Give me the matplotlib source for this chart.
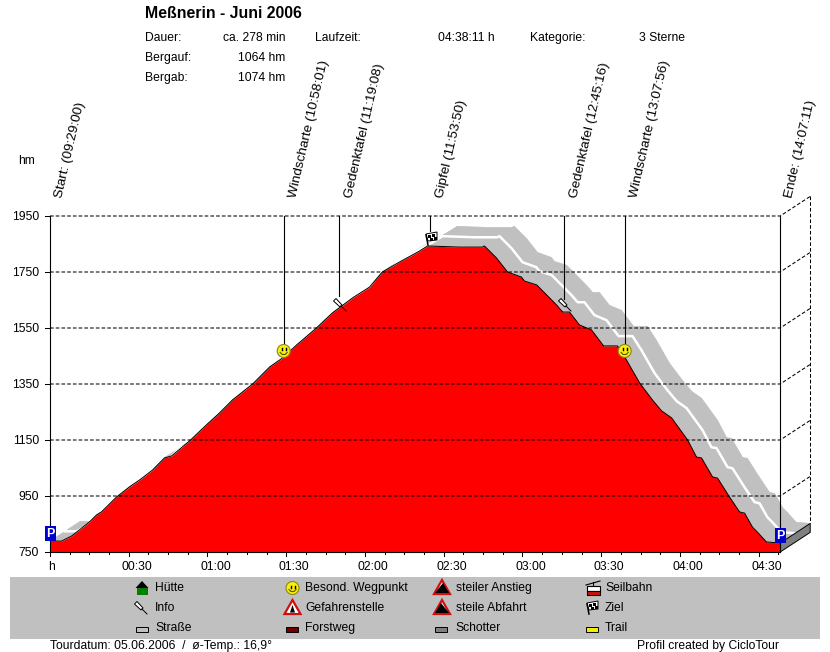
# elevation profile of a hiking tour, CicloTour style
import matplotlib
matplotlib.use("Agg")
import matplotlib.pyplot as plt
from matplotlib.patches import Circle, Polygon, Rectangle

plt.rcParams['font.family'] = ['Liberation Sans', 'DejaVu Sans']

# profile, minutes since start / altitude in hm
time_min = [0, 4.4, 8.2, 10.1, 15.0, 17.7, 19.6, 25.3, 30.2, 34.1, 39.1, 43.6, 46.3, 53.1,
            59.6, 64.5, 69.5, 77.2, 83.7, 88.6, 93.9, 101.5, 107.6, 115.2, 121.7, 126.6,
            133.2, 140.8, 143.8, 156.0, 164.7, 165.5, 170.1, 174.3, 179.6, 180.7, 185.4,
            193.0, 195.3, 197.9, 201.7, 206.3, 210.9, 216.2, 219.6, 224.6, 229.5, 233.0,
            236.8, 242.9, 246.3, 248.2, 252.4, 254.3, 258.9, 262.7, 264.6, 267.6, 269.5,
            272.9, 278.18]
altitude = [789, 789, 807, 821, 857, 882, 893, 946, 982, 1007, 1043, 1086, 1093, 1146,
            1204, 1246, 1293, 1350, 1411, 1443, 1489, 1550, 1604, 1657, 1696, 1750,
            1786, 1825, 1843, 1839, 1839, 1843, 1800, 1750, 1732, 1718, 1704,
            1632, 1607, 1607, 1561, 1543, 1486, 1486, 1436, 1354, 1293, 1254,
            1229, 1150, 1089, 1086, 1018, 1014, 946, 893, 889, 839, 821,
            786, 782]

y_ticks = [750, 950, 1150, 1350, 1550, 1750, 1950]
x_major = [30, 60, 90, 120, 150, 180, 210, 240, 270]
x_labels = ['00:30', '01:00', '01:30', '02:00', '02:30', '03:00', '03:30', '04:00', '04:30']
x_minor = [7.5, 15, 22.5, 37.5, 45, 52.5, 67.5, 75, 82.5, 97.5, 105, 112.5, 127.5, 135, 142.5,
           157.5, 165, 172.5, 187.5, 195, 202.5, 217.5, 225, 232.5, 247.5, 255, 262.5, 277.5]

event_names = ['Start: (09:29:00)', 'Windscharte (10:58:01)', 'Gedenktafel (11:19:08)',
               'Gipfel (11:53:50)', 'Gedenktafel (12:45:16)', 'Windscharte (13:07:56)',
               'Ende: (14:07:11)']
event_min = [0, 89.02, 110.13, 144.83, 196.0, 218.93, 278.18]
leader_end = [750, 1490, 1665, 1895, 1655, 1490, 750]

legend_names = [['Hütte', 'Info', 'Straße'],
                ['Besond. Wegpunkt', 'Gefahrenstelle', 'Forstweg'],
                ['steiler Anstieg', 'steile Abfahrt', 'Schotter'],
                ['Seilbahn', 'Ziel', 'Trail']]

W, H = 830, 652
T_END = 278.18
DEPTH_T = 11.43
DEPTH_H = 70

fig = plt.figure(figsize=(W / 100, H / 100), dpi=100, facecolor='white')
ax = fig.add_axes([50 / W, 1 - 552 / H, 730.2 / W, 336 / H])
ax.set_xlim(0, T_END)
ax.set_ylim(750, 1950)
ax.axis('off')

# overlay in pixels for texts and icons
px = fig.add_axes([0, 0, 1, 1], zorder=5)
px.set_xlim(0, W)
px.set_ylim(H, 0)
px.axis('off')
px.patch.set_alpha(0)

# the road band lies behind the profile
for i in range(len(time_min) - 1):
    t0, t1 = time_min[i], time_min[i + 1]
    a0, a1 = altitude[i], altitude[i + 1]
    ax.fill([t0, t1, t1 + DEPTH_T, t0 + DEPTH_T], [a0, a1, a1 + DEPTH_H, a0 + DEPTH_H],
            color='#c0c0c0', lw=0.5, clip_on=False, zorder=1)
ax.plot([t + DEPTH_T / 2 for t in time_min], [a + DEPTH_H / 2 for a in altitude],
        color='white', lw=1.8, clip_on=False, zorder=2)

# end face
ax.fill([T_END, T_END + DEPTH_T, T_END + DEPTH_T, T_END],
        [750, 750 + DEPTH_H, altitude[-1] + DEPTH_H, altitude[-1]],
        facecolor='#808080', edgecolor='black', lw=0.7, clip_on=False, zorder=2)

ax.fill_between(time_min, 750, altitude, color='#ff0000', lw=0, zorder=3)
ax.plot(time_min, altitude, color='black', lw=0.7, zorder=4)

# grid with side wall
dash = (0, (3.5, 2))
for y in y_ticks[1:]:
    ax.plot([0, T_END, T_END + DEPTH_T], [y, y, y + DEPTH_H], color='black', lw=0.75,
            ls=dash, clip_on=False, zorder=4)
    ax.plot([-5.5 / 2.625, 0], [y, y], color='black', lw=0.75, clip_on=False, zorder=4)
ax.plot([-5.5 / 2.625, 0], [750, 750], color='black', lw=0.75, clip_on=False, zorder=4)
ax.plot([T_END + DEPTH_T] * 2, [1950 + DEPTH_H, altitude[-1] + DEPTH_H], color='black', lw=0.75,
        ls=dash, clip_on=False, zorder=4)

ax.plot([0, T_END], [750, 750], color='black', lw=0.8, clip_on=False, zorder=4)
for t, end in zip(event_min, leader_end):
    ax.plot([t, t], [end, 1950], color='black', lw=0.8, clip_on=False, zorder=4)

for t in [0] + x_major:
    ax.plot([t, t], [750, 750 - 16], color='black', lw=0.75, clip_on=False, zorder=4)
for t in x_minor:
    ax.plot([t, t], [750, 750 - 8], color='black', lw=0.75, clip_on=False, zorder=4)


def txt(x, y, s, size=8.75, **kw):
    px.text(x, y + 0.8, s, fontsize=size, color='black', va='center', **kw)


def to_px(t, a):
    return 50 + t * 2.625, 552 - (a - 750) * 0.28


for t, name in zip(x_major, x_labels):
    txt(to_px(t, 750)[0] + 8, 566, name, ha='center')
txt(51, 566, 'h', ha='center')
for y in y_ticks:
    txt(39, to_px(0, y)[1], str(y), ha='right')
txt(18, 160, 'hm')

anchor_x = [62, 296, 352, 443, 577, 637, 792]
for x, name in zip(anchor_x, event_names):
    px.text(x, 198, name, fontsize=9.7, rotation=77, rotation_mode='anchor',
            ha='left', va='baseline')

# header
txt(145, 12.5, 'Meßnerin - Juni 2006', size=11.4, fontweight='bold')
txt(145, 37.5, 'Dauer:')
txt(285, 37.5, 'ca. 278 min', ha='right')
txt(315, 37.5, 'Laufzeit:')
txt(495, 37.5, '04:38:11 h', ha='right')
txt(530, 37.5, 'Kategorie:')
txt(639, 37.5, '3 Sterne')
txt(145, 57.5, 'Bergauf:')
txt(285, 57.5, '1064 hm', ha='right')
txt(145, 77.5, 'Bergab:')
txt(285, 77.5, '1074 hm', ha='right')


# icons
def smiley(x, y, r=6.5):
    px.add_patch(Circle((x, y), r, fc='#f8ec10', ec='#8a8a10', lw=0.8))
    px.plot([x - 2, x - 2], [y - 2.5, y - 0.5], color='black', lw=1)
    px.plot([x + 2, x + 2], [y - 2.5, y - 0.5], color='black', lw=1)
    px.plot([x - 3.5, x - 1.5, x + 1.5, x + 3.5], [y + 1.5, y + 3.5, y + 3.5, y + 1.5],
            color='#555500', lw=0.8)


def pin(x, y):
    # head at x,y, needle towards lower right
    px.add_patch(Polygon([(x - 1.5, y + 1), (x + 1, y - 1.5), (x + 7, y + 5), (x + 5, y + 7)],
                         fc='white', ec='black', lw=0.7))
    px.plot([x + 6, x + 11], [y + 6, y + 11], color='black', lw=0.7)


def flag(x, y):
    px.plot([x - 5, x - 3], [y - 3, y + 7], color='black', lw=1.1)
    px.add_patch(Polygon([(x - 5, y - 4), (x + 6, y - 6), (x + 6, y + 2), (x - 3, y + 3)],
                         fc='white', ec='black', lw=0.7))
    for dx, dy in [(-3, -3), (1, -4), (-1, 0), (3, -1)]:
        px.add_patch(Rectangle((x + dx, y + dy), 2.5, 2.5, fc='black', lw=0))


def parking(x, y):
    px.add_patch(Rectangle((x - 5.5, y - 7.5), 11, 15, fc='#0000d0', ec='none'))
    px.text(x, y + 0.5, 'P', color='white', fontsize=9, fontweight='bold', ha='center', va='center')


def warning(x, y, kind):
    pts = [(x, y - 8), (x + 8, y + 6), (x - 8, y + 6)]
    px.add_patch(Polygon(pts, fc='white', ec='#d01010', lw=1.6))
    if kind == 'danger':
        px.add_patch(Polygon([(x, y - 3), (x + 2.5, y + 4.5), (x - 2.5, y + 4.5)], fc='black', lw=0))
    elif kind == 'up':
        px.add_patch(Polygon([(x - 7, y + 5), (x + 1, y - 5), (x + 7, y + 5)], fc='black', lw=0))
    else:
        px.add_patch(Polygon([(x - 7, y + 5), (x - 1, y - 5), (x + 7, y + 5)], fc='black', lw=0))


def swatch(x, y, color):
    px.add_patch(Rectangle((x - 6, y - 2.5), 12, 5, fc=color, ec='black', lw=0.7))


px.add_patch(Rectangle((10, 577), 810, 62, fc='#c0c0c0', ec='none', zorder=0))

smiley(*to_px(89.02, 1468))
smiley(*to_px(218.93, 1468))
pin(335, 300)
pin(560, 300)
flag(431, 238)
parking(50.5, 533.5)
parking(780.5, 535.5)

# legend
col_x = [155, 305, 455.5, 605]
row_y = [587.5, 607.5, 627.5]
for x, names in zip(col_x, legend_names):
    for y, name in zip(row_y, names):
        txt(x, y, name)

px.add_patch(Rectangle((137, 588), 10.5, 6.5, fc='#008000', ec='none'))
px.add_patch(Polygon([(135.5, 588), (142, 581), (148.5, 588)], fc='black', lw=0))
pin(136, 603)
swatch(141.5, 629.5, '#c0c0c0')
smiley(292.5, 588)
warning(292.5, 608, 'danger')
swatch(291.5, 629.5, '#700000')
warning(442, 588, 'up')
warning(442, 608, 'down')
swatch(441, 629.5, '#808080')

# cable car
px.plot([586, 600], [585, 581], color='black', lw=0.8)
px.plot([593, 593], [582, 586], color='black', lw=0.8)
px.add_patch(Rectangle((586.5, 586), 13, 5, fc='white', ec='black', lw=0.8))
px.add_patch(Rectangle((586.5, 591), 13, 3.5, fc='#d01010', ec='black', lw=0.8))
flag(592, 607)
swatch(591.5, 629.5, '#f0f000')

txt(50, 645, 'Tourdatum: 05.06.2006  /  ø-Temp.: 16,9°')
txt(637, 645, 'Profil created by CicloTour')

fig.savefig('out.png', dpi=100)
